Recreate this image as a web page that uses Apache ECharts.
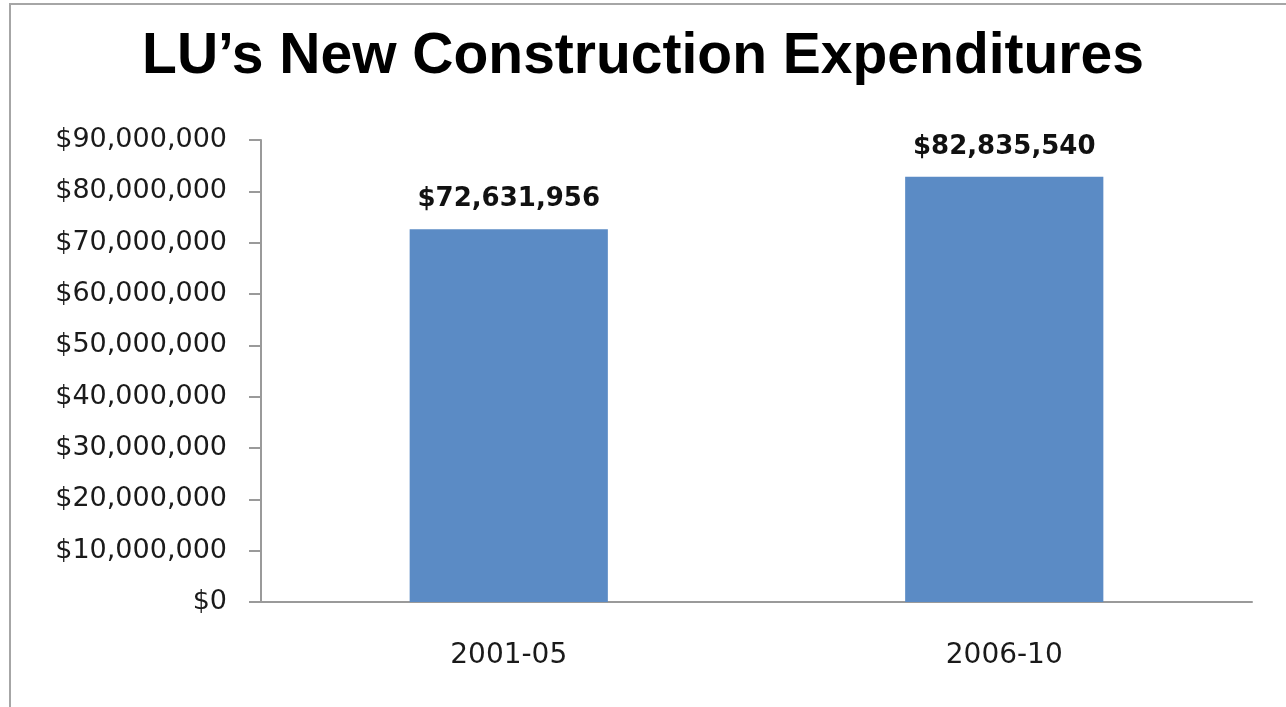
<!DOCTYPE html>
<html>
<head>
<meta charset="utf-8">
<script src="https://cdn.jsdelivr.net/npm/echarts@6/dist/echarts.min.js"></script>
<style>
  html, body { margin: 0; padding: 0; background: #fff; }
  #chart { width: 1286px; height: 707px; }
</style>
</head>
<body>
<div id="chart"></div>
<script>
// data
const periods = ['2001-05', '2006-10']
const spending = [72631956, 82835540]

const money = (v) => '$' + Math.round(v).toLocaleString('en-US')

const chart = echarts.init(document.getElementById('chart'))
chart.setOption({
  animation: false,
  backgroundColor: '#fff',
  title: {
    text: 'LU’s New Construction Expenditures',
    left: 'center',
    top: 24,
    textStyle: {
      fontFamily: 'Liberation Sans',
      fontSize: 57,
      fontWeight: 'bold',
      color: '#000'
    }
  },
  graphic: [{
    type: 'rect',
    shape: { x: 10, y: 4, width: 1300, height: 730 },
    style: { fill: 'none', stroke: '#a6a6a6', lineWidth: 2 }
  }],
  grid: { left: 261, right: 34, top: 140, bottom: 105 },
  xAxis: {
    type: 'category',
    data: periods,
    axisLine: { lineStyle: { color: '#9a9a9a', width: 2 } },
    axisTick: { length: 12, lineStyle: { color: '#9a9a9a', width: 2 } },
    axisLabel: {
      margin: 40,
      fontFamily: 'DejaVu Sans',
      fontSize: 28,
      color: '#1a1a1a'
    }
  },
  yAxis: {
    type: 'value',
    min: 0,
    max: 90000000,
    interval: 10000000,
    splitLine: { show: false },
    axisLine: { show: true, lineStyle: { color: '#9a9a9a', width: 2 } },
    axisTick: { show: true, length: 12, lineStyle: { color: '#9a9a9a', width: 2 } },
    axisLabel: {
      margin: 34,
      fontFamily: 'DejaVu Sans',
      fontSize: 27,
      color: '#1a1a1a',
      formatter: money
    }
  },
  series: [{
    type: 'bar',
    data: spending,
    barWidth: '40%',
    itemStyle: { color: '#5b8bc5' },
    label: {
      show: true,
      position: 'top',
      distance: 17,
      fontFamily: 'DejaVu Sans',
      fontSize: 26,
      fontWeight: 'bold',
      color: '#111',
      formatter: (p) => money(p.value)
    }
  }]
})
</script>
</body>
</html>
